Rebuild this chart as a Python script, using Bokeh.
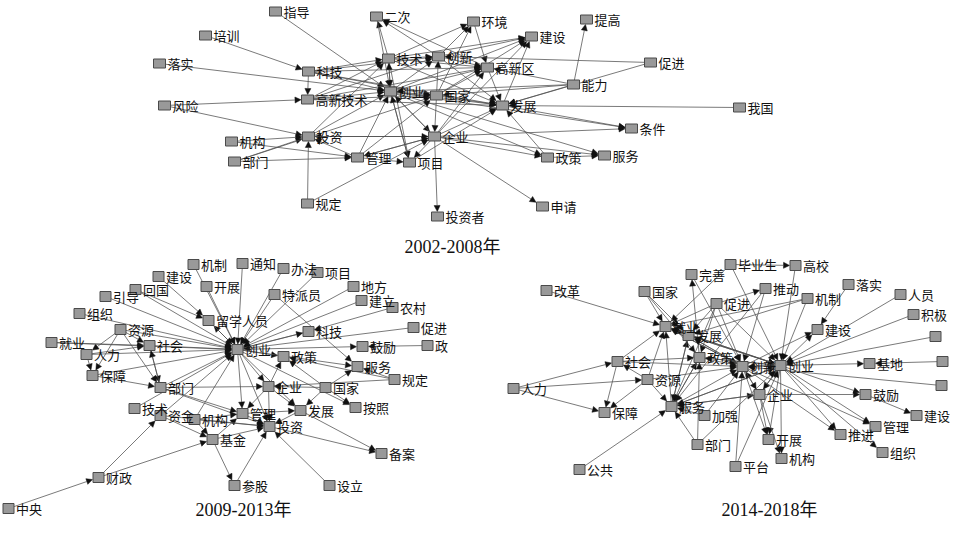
from bokeh.plotting import figure
from bokeh.models import ColumnDataSource, Arrow, NormalHead, Range1d
from bokeh.core.properties import value
from bokeh.embed import file_html
from bokeh.resources import INLINE

# ---------------- Panel 1: 2002-2008 ----------------
p1_title = "2002-2008年"
p1_title_pos = (460, 254)
p1_ids = ["指导", "二次", "培训", "落实", "科技", "技术", "创新", "高新技术", "创业", "国家",
          "风险", "投资", "企业", "机构", "部门", "管理", "项目", "规定", "投资者", "环境",
          "建设", "提高", "高新区", "促进", "能力", "发展", "我国", "条件", "政策", "服务", "申请"]
p1_labels = list(p1_ids)
p1_x = [283, 384, 213, 167, 316, 396, 446, 315, 398, 444,
        172, 316, 442, 239, 242, 365, 417, 315, 445, 481,
        539, 594, 495, 658, 581, 510, 747, 639, 555, 612, 550]
p1_y = [19, 24, 43, 71, 79, 66, 64, 107, 99, 103,
        113, 144, 144, 149, 169, 165, 170, 211, 224, 29,
        44, 27, 75, 70, 92, 113, 115, 136, 165, 163, 214]
p1_edges = [
    ("指导", "创业"), ("培训", "科技"), ("落实", "创业"), ("风险", "高新技术"), ("风险", "投资"),
    ("科技", "高新技术"), ("科技", "创业"), ("科技", "技术"), ("科技", "创新"), ("科技", "高新区"),
    ("科技", "国家"), ("高新技术", "创业"), ("高新技术", "技术"), ("高新技术", "创新"),
    ("高新技术", "高新区"), ("高新技术", "发展"), ("技术", "二次"), ("创新", "二次"),
    ("高新区", "二次"), ("技术", "创业"), ("技术", "环境"), ("技术", "建设"), ("技术", "高新区"),
    ("技术", "发展"), ("技术", "项目"), ("创新", "环境"), ("创新", "建设"), ("创新", "高新区"),
    ("创新", "发展"), ("国家", "创新"), ("国家", "企业"), ("国家", "建设"), ("国家", "环境"),
    ("国家", "高新区"), ("国家", "发展"), ("创业", "技术"), ("创业", "创新"), ("创业", "高新区"),
    ("创业", "发展"), ("创业", "企业"), ("创业", "项目"), ("创业", "建设"), ("创业", "政策"),
    ("创业", "服务"), ("创业", "条件"), ("创业", "国家"), ("环境", "高新区"), ("高新区", "发展"),
    ("发展", "建设"), ("能力", "提高"), ("促进", "创新"), ("促进", "发展"), ("能力", "高新区"),
    ("能力", "发展"), ("能力", "创业"), ("能力", "国家"), ("企业", "投资"), ("企业", "管理"),
    ("企业", "项目"), ("企业", "发展"), ("企业", "高新区"), ("企业", "投资者"), ("企业", "申请"),
    ("企业", "服务"), ("企业", "政策"), ("企业", "条件"), ("企业", "建设"), ("企业", "创业"),
    ("投资", "创业"), ("投资", "企业"), ("投资", "技术"), ("管理", "投资"), ("管理", "创业"),
    ("管理", "企业"), ("管理", "项目"), ("管理", "国家"), ("项目", "创业"), ("项目", "发展"),
    ("机构", "投资"), ("机构", "管理"), ("部门", "投资"), ("部门", "管理"), ("部门", "国家"),
    ("规定", "投资"), ("规定", "企业"), ("政策", "发展"), ("政策", "服务"), ("我国", "发展"),
    ("发展", "条件"), ("技术", "创新"), ("二次", "创业"), ("科技", "发展"), ("高新技术", "国家"),
]

# ---------------- Panel 2: 2009-2013 ----------------
p2_title = "2009-2013年"
p2_title_pos = (251, 517)
p2_ids = ["机制", "建设", "开展", "回国", "引导", "组织", "留学人员", "资源", "就业", "社会",
          "创业", "人力", "保障", "部门", "技术", "资金", "机构", "基金", "财政", "中央",
          "通知", "办法", "项目", "特派员", "地方", "建立", "农村", "科技", "促进", "鼓励",
          "政", "政策", "服务", "规定", "企业", "国家", "按照", "管理", "发展", "投资",
          "备案", "参股", "设立"]
p2_labels = list(p2_ids)
p2_x = [201, 166, 214, 143, 113, 87, 216, 128, 59, 157,
        245, 94, 100, 168, 142, 168, 202, 220, 106, 16,
        250, 291, 325, 282, 361, 369, 400, 316, 421, 370,
        435, 291, 365, 402, 276, 333, 363, 250, 308, 277,
        389, 242, 337]
p2_y = [272, 284, 294, 297, 304, 321, 328, 337, 350, 353,
        357, 362, 383, 395, 416, 423, 427, 447, 485, 516,
        271, 276, 280, 302, 294, 308, 315, 339, 335, 354,
        353, 364, 374, 387, 394, 395, 415, 421, 418, 434,
        461, 493, 493]
p2_edges = [
    ("机制", "创业"), ("建设", "留学人员"), ("开展", "创业"), ("回国", "留学人员"), ("回国", "创业"),
    ("引导", "创业"), ("组织", "创业"), ("资源", "社会"), ("资源", "创业"), ("资源", "部门"),
    ("资源", "保障"), ("资源", "人力"), ("就业", "社会"), ("就业", "创业"), ("人力", "社会"),
    ("人力", "保障"), ("人力", "创业"), ("保障", "创业"), ("社会", "创业"), ("社会", "部门"),
    ("部门", "社会"), ("部门", "创业"), ("部门", "企业"), ("部门", "投资"), ("部门", "管理"),
    ("技术", "创业"), ("资金", "基金"), ("资金", "创业"), ("机构", "基金"), ("机构", "创业"),
    ("基金", "投资"), ("基金", "管理"), ("基金", "参股"), ("财政", "基金"), ("财政", "资金"),
    ("中央", "财政"), ("通知", "创业"), ("办法", "创业"), ("项目", "创业"), ("特派员", "创业"),
    ("特派员", "服务"), ("地方", "创业"), ("建立", "创业"), ("农村", "科技"), ("科技", "创业"),
    ("促进", "创业"), ("创业", "鼓励"), ("政", "鼓励"), ("创业", "政策"), ("创业", "服务"),
    ("规定", "政策"), ("规定", "企业"), ("规定", "服务"), ("企业", "管理"), ("企业", "投资"),
    ("企业", "发展"), ("企业", "政策"), ("国家", "政策"), ("国家", "企业"), ("国家", "服务"),
    ("国家", "发展"), ("国家", "按照"), ("管理", "投资"), ("管理", "发展"), ("发展", "投资"),
    ("发展", "备案"), ("投资", "备案"), ("设立", "投资"), ("参股", "投资"), ("创业", "管理"),
    ("创业", "投资"), ("创业", "企业"), ("创业", "发展"), ("创业", "留学人员"),
    ("留学人员", "创业"), ("创业", "按照"), ("创业", "科技"), ("机构", "管理"), ("资金", "投资"),
    ("保障", "部门"), ("机构", "投资"),
]

# ---------------- Panel 3: 2014-2018 ----------------
p3_title = "2014-2018年"
p3_title_pos = (777, 517)
p3_ids = ["改革", "完善", "国家", "促进", "就业", "发展", "政策", "社会", "资源", "人力",
          "服务", "保障", "加强", "部门", "公共", "毕业生", "高校", "推动", "机制", "建设",
          "落实", "人员", "积极", "未名1", "创新", "创业", "基地", "未名2", "未名3", "企业",
          "鼓励", "建设2", "管理", "推进", "开展", "组织", "机构", "平台"]
p3_labels = ["改革", "完善", "国家", "促进", "就业", "发展", "政策", "社会", "资源", "人力",
             "服务", "保障", "加强", "部门", "公共", "毕业生", "高校", "推动", "机制", "建设",
             "落实", "人员", "积极", "", "创新", "创业", "基地", "", "", "企业",
             "鼓励", "建设", "管理", "推进", "开展", "组织", "机构", "平台"]
p3_x = [554, 699, 652, 724, 673, 696, 707, 625, 655, 521,
        679, 612, 712, 705, 587, 738, 803, 773, 815, 825,
        856, 908, 921, 943, 750, 788, 877, 950, 949, 767,
        873, 924, 883, 848, 776, 890, 789, 743]
p3_y = [298, 282, 299, 311, 334, 343, 365, 369, 387, 396,
        414, 420, 423, 452, 477, 272, 273, 296, 306, 337,
        292, 302, 322, 344, 374, 373, 371, 369, 393, 402,
        402, 423, 434, 442, 447, 460, 466, 474]
p3_edges = [
    ("改革", "就业"), ("国家", "就业"), ("国家", "政策"), ("政策", "完善"), ("毕业生", "高校"),
    ("毕业生", "创业"), ("毕业生", "就业"), ("高校", "创业"), ("促进", "推动"), ("推动", "服务"),
    ("推动", "创新"), ("促进", "就业"), ("促进", "发展"), ("促进", "创业"), ("促进", "创新"),
    ("促进", "政策"), ("促进", "服务"), ("机制", "创业"), ("机制", "就业"), ("机制", "发展"),
    ("创业", "建设"), ("创新", "建设"), ("落实", "建设"), ("人员", "创业"), ("积极", "创业"),
    ("未名1", "创业"), ("创业", "基地"), ("未名2", "基地"), ("未名3", "创新"), ("创业", "鼓励"),
    ("企业", "鼓励"), ("鼓励", "建设2"), ("创业", "管理"), ("创新", "管理"), ("创业", "组织"),
    ("创业", "推进"), ("创新", "推进"), ("创业", "开展"), ("创新", "开展"), ("企业", "开展"),
    ("创业", "机构"), ("企业", "机构"), ("平台", "创业"), ("平台", "创新"), ("部门", "服务"),
    ("部门", "政策"), ("加强", "服务"), ("加强", "创新"), ("公共", "服务"), ("人力", "社会"),
    ("人力", "资源"), ("人力", "保障"), ("社会", "保障"), ("社会", "就业"), ("社会", "政策"),
    ("社会", "创新"), ("资源", "社会"), ("资源", "服务"), ("资源", "就业"), ("资源", "创新"),
    ("资源", "保障"), ("服务", "就业"), ("服务", "发展"), ("服务", "政策"), ("服务", "创新"),
    ("服务", "创业"), ("服务", "企业"), ("就业", "发展"), ("就业", "创新"), ("就业", "创业"),
    ("发展", "创新"), ("发展", "创业"), ("发展", "服务"), ("政策", "创新"), ("政策", "创业"),
    ("政策", "服务"), ("创新", "创业"), ("创业", "创新"), ("企业", "创新"), ("企业", "创业"),
    ("企业", "服务"), ("创业", "就业"), ("创新", "就业"), ("创新", "发展"), ("创业", "政策"),
    ("创业", "服务"), ("完善", "创新"), ("国家", "发展"), ("创业", "企业"), ("创新", "企业"),
    ("部门", "创业"), ("创业", "发展"),
]

LABEL_FONT = "Noto Sans CJK SC"
TITLE_FONT = "Liberation Serif, Noto Sans CJK SC"

p = figure(width=952, height=518, output_backend="svg", toolbar_location=None,
           x_range=Range1d(8, 960), y_range=Range1d(526, 8), min_border=0)
p.axis.visible = False
p.grid.visible = False
p.outline_line_color = None
p.background_fill_color = "white"


def clip_end(x0, y0, x1, y1, hw, hh):
    dx, dy = x1 - x0, y1 - y0
    cands = []
    if abs(dx) > 1e-9:
        cands.append(hw / abs(dx))
    if abs(dy) > 1e-9:
        cands.append(hh / abs(dy))
    s = min(cands) if cands else 0
    s = min(s, 0.9)
    return x1 - dx * s, y1 - dy * s


def draw_panel(ids, labels, xs, ys, edges, title, title_pos, w, h):
    pos = {k: (x, y) for k, x, y in zip(ids, xs, ys)}
    x0s, y0s, x1s, y1s = [], [], [], []
    for a, b in edges:
        xa, ya = pos[a]
        xb, yb = pos[b]
        ex, ey = clip_end(xa, ya, xb, yb, w / 2 + 0.5, h / 2 + 0.5)
        x0s.append(xa); y0s.append(ya); x1s.append(ex); y1s.append(ey)
    esrc = ColumnDataSource(dict(x0=x0s, y0=y0s, x1=x1s, y1=y1s))
    arr = Arrow(end=NormalHead(size=6, fill_color="#111111", line_color="#111111", line_width=0.5),
                x_start="x0", y_start="y0", x_end="x1", y_end="y1", source=esrc,
                line_color="#4d4d4d", line_width=0.75, level="underlay")
    p.add_layout(arr)
    nsrc = ColumnDataSource(dict(x=xs, y=ys, lab=labels, lx=[x + w / 2 + 2 for x in xs]))
    p.rect(x="x", y="y", width=w, height=h, source=nsrc, fill_color="#999999",
           line_color="#4a4a4a", line_width=1)
    p.text(x="lx", y="y", text="lab", source=nsrc, text_font=value(LABEL_FONT),
           text_font_size="13px", text_baseline="middle", text_align="left",
           text_color="#111111")
    p.text(x=[title_pos[0]], y=[title_pos[1]], text=[title], text_font=value(TITLE_FONT),
           text_font_size="18px", text_baseline="middle", text_align="center",
           text_color="#111111")


draw_panel(p1_ids, p1_labels, p1_x, p1_y, p1_edges, p1_title, p1_title_pos, 12, 9)
draw_panel(p2_ids, p2_labels, p2_x, p2_y, p2_edges, p2_title, p2_title_pos, 11, 10)
draw_panel(p3_ids, p3_labels, p3_x, p3_y, p3_edges, p3_title, p3_title_pos, 11, 10)

open("out.html", "w").write(file_html(p, INLINE))
